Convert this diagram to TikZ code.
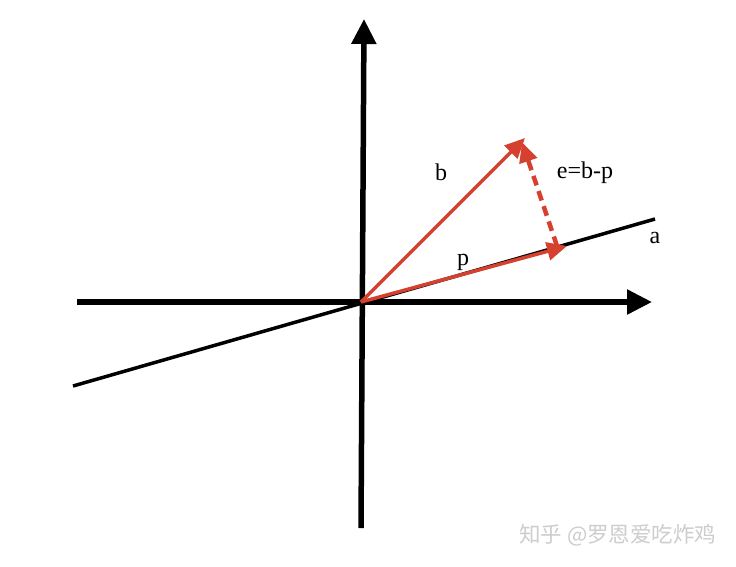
\documentclass[tikz,border=0pt]{standalone}
\usepackage{fontspec}
\setmainfont{Liberation Serif}
\newfontfamily\cjkfont{Noto Sans CJK SC}
\usetikzlibrary{arrows.meta}
\definecolor{vecred}{RGB}{214,64,46}
\definecolor{wmgray}{RGB}{205,205,205}
\tikzset{
  axis/.style={line width=5.5pt, -{Triangle[length=25pt,width=24pt]}},
  lineA/.style={line width=3.5pt},
  vec/.style={vecred, line width=3.5pt, -{Triangle[length=20pt,width=18pt]}},
  errvec/.style={vecred, line width=4.5pt, dash pattern=on 10pt off 6pt, -{Triangle[length=20pt,width=18pt]}},
  lbl/.style={font=\fontsize{24}{27}\selectfont, inner sep=0pt},
  wm/.style={font=\cjkfont\fontsize{21.5}{24}\selectfont, text=wmgray, inner sep=0pt}
}
\begin{document}
\begin{tikzpicture}[x=1pt,y=-1pt]
\useasboundingbox (0,0) rectangle (736,566);
\fill[white] (0,0) rectangle (736,566);
% coordinates
\coordinate (O) at (361,302);
\coordinate (ybot) at (361,528);
\coordinate (ytop) at (364,19);
\coordinate (xleft) at (77,302);
\coordinate (xright) at (652,302);
\coordinate (aleft) at (73,386);
\coordinate (aright) at (655,219);
\coordinate (btip) at (525,138);
\coordinate (ptip) at (567,246);
\coordinate (estart) at (557,246);
\coordinate (etip) at (522,142);
% axes
\draw[axis] (ybot) -- (ytop);
\draw[axis] (xleft) -- (xright);
% line a
\draw[lineA] (aleft) -- (aright);
% vectors
\draw[vec] (O) -- (btip);
\draw[vec] (O) -- (ptip);
\draw[errvec] (estart) -- (etip);
% labels
\node[lbl] (lb) at (441,172) {b};
\node[lbl] (le) at (585,173) {e=b-p};
\node[lbl] (lp) at (463,262) {p};
\node[lbl] (la) at (655,238) {a};
% watermark
\node[wm, anchor=west] (wmk) at (519,535) {知乎 @罗恩爱吃炸鸡};
\end{tikzpicture}
\end{document}
